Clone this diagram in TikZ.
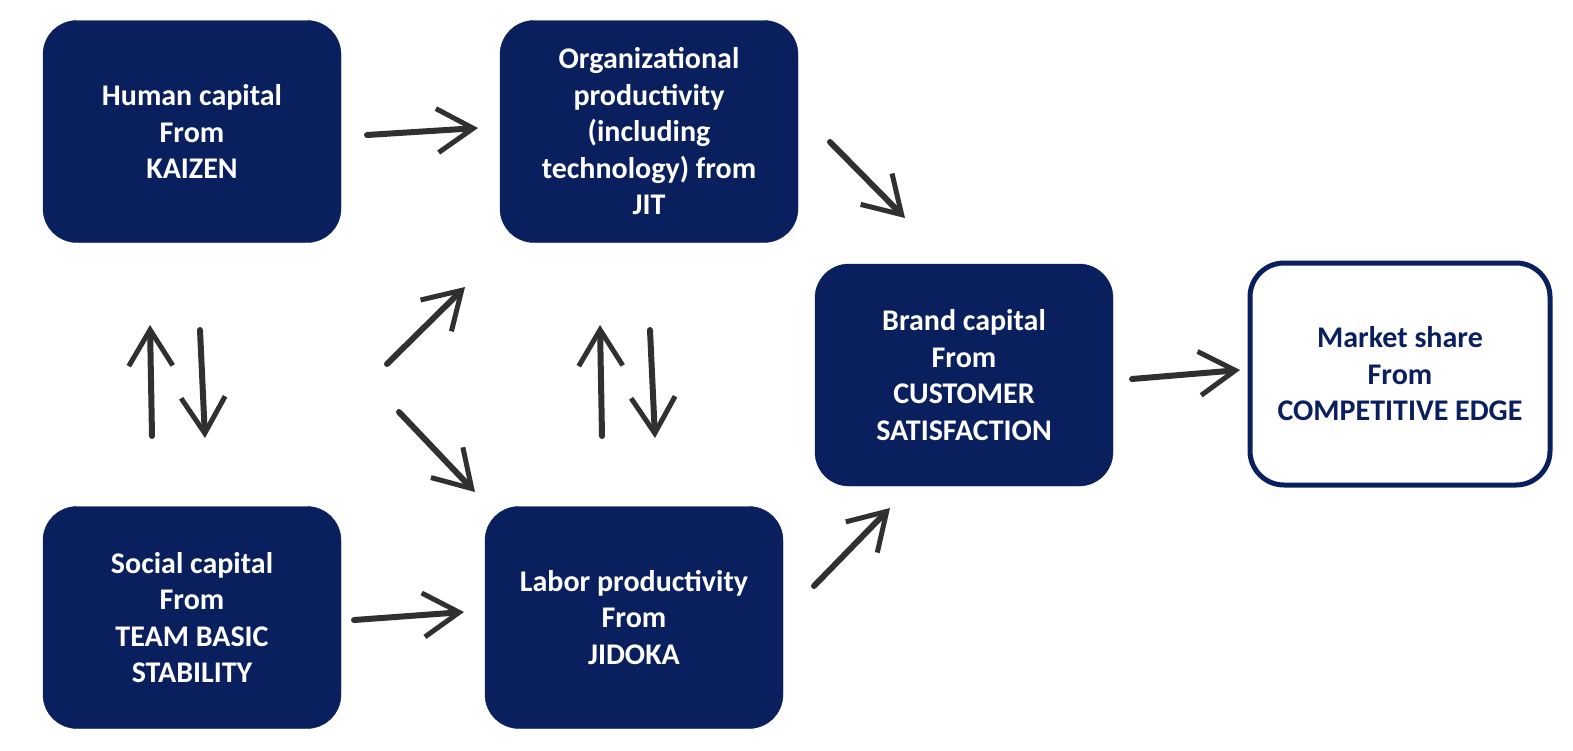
\documentclass[tikz,border=0pt]{standalone}
\usepackage{fontspec}
\setmainfont{Carlito}
\usetikzlibrary{arrows.meta}
\definecolor{navy}{HTML}{0A1F5E}
\definecolor{ink}{HTML}{303030}
\begin{document}
\begin{tikzpicture}[x=1pt,y=-1pt,
  box/.style={draw=navy,fill=navy,rounded corners=34pt,minimum width=298pt,minimum height=222pt,
    text=white,align=center,font=\bfseries\fontsize{30}{36.5}\selectfont,inner sep=0pt},
  obox/.style={box,fill=white,text=navy,line width=5pt,minimum width=300pt,minimum height=222pt},
  brush/.style={draw=ink,line width=6pt,line cap=round,-{Straight Barb[length=36pt,width=44pt,line width=5pt]}}]
\useasboundingbox (0,0) rectangle (1573,750);
\node[box] (hum) at (192,131.5) {Human capital\\From\\KAIZEN};
\node[box] (org) at (649,131.5) {Organizational\\productivity\\(including\\technology) from\\JIT};
\node[box] (brand) at (964,375) {Brand capital\\From\\CUSTOMER\\SATISFACTION};
\node[obox] (mkt) at (1400,374) {Market share\\From\\COMPETITIVE EDGE};
\node[box] (soc) at (192,617.5) {Social capital\\From\\TEAM BASIC\\STABILITY};
\node[box] (lab) at (634,617.5) {Labor productivity\\From\\JIDOKA};
% connector end points
\coordinate (a1s) at (367,135); \coordinate (a1e) at (478,128);
\coordinate (a2s) at (830,142); \coordinate (a2e) at (905,218);
\coordinate (a3s) at (152,436); \coordinate (a3e) at (150,325);
\coordinate (a4s) at (200,330); \coordinate (a4e) at (205,438);
\coordinate (a5s) at (387,364); \coordinate (a5e) at (465,287);
\coordinate (a6s) at (399,412); \coordinate (a6e) at (475,492);
\coordinate (a7s) at (602,436); \coordinate (a7e) at (600,325);
\coordinate (a8s) at (650,330); \coordinate (a8e) at (655,438);
\coordinate (a9s) at (354,620); \coordinate (a9e) at (464,612);
\coordinate (a10s) at (814,586); \coordinate (a10e) at (890,508);
\coordinate (a11s) at (1132,379); \coordinate (a11e) at (1240,370);
\draw[brush] (a1s) -- (a1e);
\draw[brush] (a2s) -- (a2e);
\draw[brush] (a3s) -- (a3e);
\draw[brush] (a4s) -- (a4e);
\draw[brush] (a5s) -- (a5e);
\draw[brush] (a6s) -- (a6e);
\draw[brush] (a7s) -- (a7e);
\draw[brush] (a8s) -- (a8e);
\draw[brush] (a9s) -- (a9e);
\draw[brush] (a10s) -- (a10e);
\draw[brush] (a11s) -- (a11e);
\end{tikzpicture}
\end{document}
